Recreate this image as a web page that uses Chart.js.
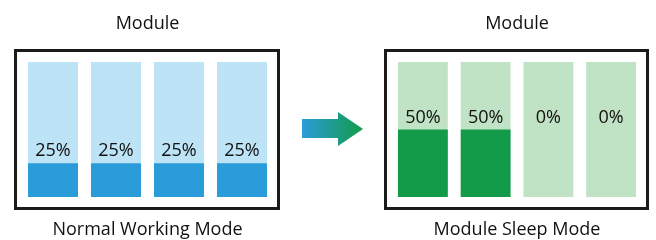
<!DOCTYPE html>
<html>
<head>
<meta charset="utf-8">
<script src="https://cdn.jsdelivr.net/npm/chart.js@4.4.1/dist/chart.umd.min.js"></script>
<style>
    html, body { margin: 0; padding: 0; background: #fff; overflow: hidden; }
    #wrap { position: relative; width: 656px; height: 240px; }
    canvas { position: absolute; top: 0; }
    #normalChart { left: 8px; }
    #sleepChart { left: 378px; }
    #arrow { position: absolute; left: 300px; top: 108px; }
</style>
</head>
<body>
<div id="wrap">
    <canvas id="normalChart" width="279" height="240"></canvas>
    <svg id="arrow" width="66" height="42" viewBox="0 0 66 42">
        <defs>
            <linearGradient id="arrowGrad" x1="0" y1="0" x2="1" y2="0">
                <stop offset="0" stop-color="#2a9cd9"/>
                <stop offset="1" stop-color="#139b49"/>
            </linearGradient>
        </defs>
        <polygon points="2,11 38,11 38,4 63,21 38,38 38,30 2,30" fill="url(#arrowGrad)"/>
    </svg>
    <canvas id="sleepChart" width="278" height="240"></canvas>
</div>
<script>
const cores = ['1', '2', '3', '4'];
const capacity = [100, 100, 100, 100];
const normalLoad = [25, 25, 25, 25];
const sleepLoad = [50, 50, 0, 0];
const panelTitle = 'Module';
const normalMode = 'Normal Working Mode';
const sleepMode = 'Module Sleep Mode';

const fontFamily = '"Open Sans", "Noto Sans", sans-serif';

// frame around the bars + percent labels
const panelPlugin = {
    id: 'panelPlugin',
    afterDatasetsDraw(chart) {
        const ctx = chart.ctx;
        const area = chart.chartArea;
        const yScale = chart.scales.y;
        const load = chart.data.datasets[0].data;

        ctx.save();
        ctx.strokeStyle = '#1a1a1a';
        ctx.lineWidth = 3;
        ctx.strokeRect(area.left - 6, area.top - 11.5, area.right - area.left + 11, area.bottom - area.top + 23);

        const labelY = yScale.getPixelForValue(Math.max(...load)) - 12;
        ctx.fillStyle = '#111';
        ctx.font = '18px ' + fontFamily;
        ctx.textAlign = 'center';
        ctx.textBaseline = 'middle';
        chart.getDatasetMeta(0).data.forEach(function(bar, i) {
            ctx.fillText(load[i] + '%', bar.x, labelY);
        });
        ctx.restore();
    }
};

function makePanel(canvasId, load, fillColor, emptyColor, modeName) {
    const el = document.getElementById(canvasId);
    if(!el) return;
    new Chart(el, {
        type: 'bar',
        data: {
            labels: cores,
            datasets: [{
                data: load,
                backgroundColor: fillColor,
                grouped: false,
                order: 1
            }, {
                data: capacity,
                backgroundColor: emptyColor,
                grouped: false,
                order: 2
            }]
        },
        options: {
            responsive: false,
            animation: false,
            barPercentage: 0.794,
            categoryPercentage: 1,
            layout: {
                padding: { left: 13.5, right: 13.5, top: 0, bottom: 0 }
            },
            plugins: {
                legend: { display: false },
                tooltip: { enabled: false },
                title: {
                    display: true,
                    text: panelTitle,
                    color: '#111',
                    font: { family: fontFamily, size: 18, weight: 'normal' },
                    padding: { top: 13, bottom: 27.4 }
                },
                subtitle: {
                    display: true,
                    position: 'bottom',
                    text: modeName,
                    color: '#111',
                    font: { family: fontFamily, size: 18, weight: 'normal', lineHeight: 1 },
                    padding: { top: 24, bottom: 1 }
                }
            },
            scales: {
                x: { display: false },
                y: { display: false, min: 0, max: 100 }
            }
        },
        plugins: [panelPlugin]
    });
}

makePanel('normalChart', normalLoad, '#2a9cd9', '#bde3f6', normalMode);
makePanel('sleepChart', sleepLoad, '#139b49', '#c0e2c5', sleepMode);
</script>
</body>
</html>
